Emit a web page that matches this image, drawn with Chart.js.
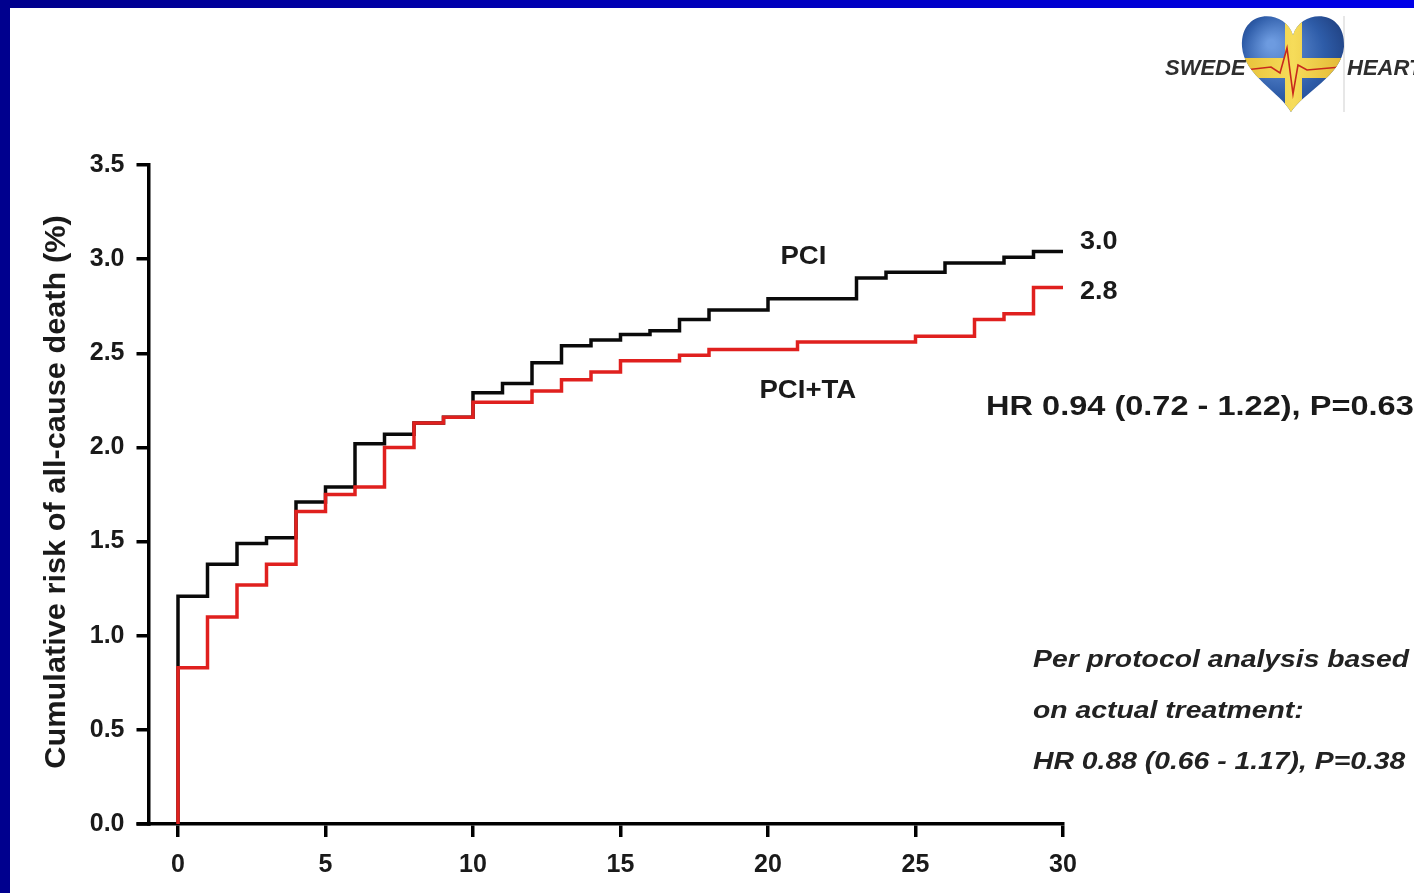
<!DOCTYPE html>
<html>
<head>
<meta charset="utf-8">
<script src="https://cdn.jsdelivr.net/npm/chart.js@4.4.1/dist/chart.umd.min.js"></script>
<style>
  html, body { margin: 0; padding: 0; background: #fff; overflow: hidden; }
  #topband { position: absolute; left: 0; top: 0; width: 1414px; height: 8px;
    background: linear-gradient(to right, #00008c, #0000e8); }
  #leftband { position: absolute; left: 0; top: 0; width: 10px; height: 893px; background: #00008e; }
  #wrap { position: absolute; left: 0; top: 0; width: 1414px; height: 893px; }
</style>
</head>
<body>
<div id="wrap"><canvas id="km" width="1414" height="893"></canvas></div>
<div id="topband"></div>
<div id="leftband"></div>
<script>
// days since PCI and cumulative risk (%)
const pciDays = [0, 0, 1, 2, 3, 4, 5, 6, 7, 8, 9, 10, 11, 12, 13, 14, 15, 16, 17, 18, 20, 23, 24, 26, 28, 29, 30];
const pciRisk = [0, 1.21, 1.38, 1.49, 1.52, 1.71, 1.79, 2.02, 2.07, 2.13, 2.16, 2.29, 2.34, 2.45, 2.54, 2.57, 2.60, 2.62, 2.68, 2.73, 2.79, 2.90, 2.93, 2.98, 3.01, 3.04, 3.04];
const taDays = [0, 0, 1, 2, 3, 4, 5, 6, 7, 8, 9, 10, 12, 13, 14, 15, 17, 18, 21, 25, 27, 28, 29, 30];
const taRisk = [0, 0.83, 1.10, 1.27, 1.38, 1.66, 1.75, 1.79, 2.00, 2.13, 2.16, 2.24, 2.30, 2.36, 2.40, 2.46, 2.49, 2.52, 2.56, 2.59, 2.68, 2.71, 2.85, 2.85];

const xTicks = [0, 5, 10, 15, 20, 25, 30];
const endLabels = ['3.0', '2.8'];
const seriesNames = ['PCI', 'PCI+TA'];
const hrText = 'HR 0.94 (0.72 - 1.22), P=0.63';
const ppText = ['Per protocol analysis based', 'on actual treatment:', 'HR 0.88 (0.66 - 1.17), P=0.38'];
const yTitle = 'Cumulative risk of all-cause death (%)';

const FONT = '"Liberation Sans", Arial, sans-serif';

function pts(xs, ys) {
  return xs.map((x, i) => ({ x: x, y: ys[i] }));
}

function wideText(ctx, txt, x, y, font, sx, align, color) {
  ctx.save();
  ctx.font = font;
  ctx.fillStyle = color || '#1a1a1a';
  ctx.textAlign = align || 'left';
  ctx.textBaseline = 'middle';
  ctx.translate(x, y);
  ctx.scale(sx, 1);
  ctx.fillText(txt, 0, 0);
  ctx.restore();
}

function drawLogo(ctx) {
  const cx = 1293, top = 16, w = 102, h = 96;
  ctx.save();
  // thin separator
  ctx.strokeStyle = '#cfcfcf';
  ctx.lineWidth = 1;
  ctx.beginPath(); ctx.moveTo(1344, 16); ctx.lineTo(1344, 112); ctx.stroke();
  // heart shape
  ctx.beginPath();
  ctx.moveTo(cx, top + 0.2 * h);
  ctx.bezierCurveTo(cx - 0.08 * w, top - 0.08 * h, cx - 0.52 * w, top - 0.08 * h, cx - 0.5 * w, top + 0.32 * h);
  ctx.bezierCurveTo(cx - 0.48 * w, top + 0.62 * h, cx - 0.12 * w, top + 0.8 * h, cx - 0.02 * w, top + h);
  ctx.bezierCurveTo(cx + 0.1 * w, top + 0.8 * h, cx + 0.48 * w, top + 0.62 * h, cx + 0.5 * w, top + 0.32 * h);
  ctx.bezierCurveTo(cx + 0.52 * w, top - 0.08 * h, cx + 0.08 * w, top - 0.08 * h, cx, top + 0.2 * h);
  ctx.closePath();
  const g = ctx.createRadialGradient(cx - 22, top + 28, 4, cx, top + 45, 72);
  g.addColorStop(0, '#6d9be0');
  g.addColorStop(0.55, '#2e5ca8');
  g.addColorStop(1, '#1a3570');
  ctx.fillStyle = g;
  ctx.fill();
  ctx.clip();
  // yellow cross
  const y2 = ctx.createLinearGradient(cx - 50, 0, cx + 50, 0);
  y2.addColorStop(0, '#e8c23a');
  y2.addColorStop(0.5, '#f6dc5a');
  y2.addColorStop(1, '#e3b935');
  ctx.fillStyle = y2;
  ctx.fillRect(cx - 8, top - 5, 17, h + 10);
  ctx.fillRect(cx - 60, top + 42, 120, 20);
  // ecg trace
  ctx.strokeStyle = '#c8281c';
  ctx.lineWidth = 1.6;
  ctx.beginPath();
  ctx.moveTo(cx - 48, top + 54);
  ctx.lineTo(cx - 22, top + 51);
  ctx.lineTo(cx - 13, top + 57);
  ctx.lineTo(cx - 6, top + 32);
  ctx.lineTo(cx + 0, top + 78);
  ctx.lineTo(cx + 5, top + 49);
  ctx.lineTo(cx + 14, top + 54);
  ctx.lineTo(cx + 48, top + 51);
  ctx.stroke();
  ctx.restore();
  wideText(ctx, 'SWEDE', 1165, 69, 'italic bold 22px ' + FONT, 1, 'left', '#2e2e2e');
  wideText(ctx, 'HEART', 1347, 69, 'italic bold 22px ' + FONT, 1, 'left', '#2e2e2e');
}

const extras = {
  id: 'extras',
  afterDraw(chart) {
    const ctx = chart.ctx;
    const xs = chart.scales.x, ys = chart.scales.y;
    const area = chart.chartArea;
    // x axis line continues a little left of the y axis
    ctx.save();
    ctx.strokeStyle = '#000';
    ctx.lineWidth = 3.5;
    ctx.beginPath();
    ctx.moveTo(area.left - 12, area.bottom);
    ctx.lineTo(area.left + 2, area.bottom);
    ctx.stroke();
    ctx.restore();

    // y axis title
    ctx.save();
    ctx.translate(57, 492);
    ctx.rotate(-Math.PI / 2);
    wideText(ctx, yTitle, 0, 0, 'bold 29px ' + FONT, 1.06, 'center', '#1a1a1a');
    ctx.restore();

    // end values
    const lastX = xs.getPixelForValue(pciDays[pciDays.length - 1]);
    wideText(ctx, endLabels[0], lastX + 17, ys.getPixelForValue(pciRisk[pciRisk.length - 1]) - 10, 'bold 26px ' + FONT, 1.04, 'left');
    wideText(ctx, endLabels[1], lastX + 17, ys.getPixelForValue(taRisk[taRisk.length - 1]) + 4, 'bold 26px ' + FONT, 1.04, 'left');

    // series names
    wideText(ctx, seriesNames[0], xs.getPixelForValue(21.2), ys.getPixelForValue(3.01), 'bold 26px ' + FONT, 1.06, 'center');
    wideText(ctx, seriesNames[1], xs.getPixelForValue(21.35), ys.getPixelForValue(2.30), 'bold 26px ' + FONT, 1.06, 'center');

    // hazard ratio
    wideText(ctx, hrText, 986, 408, 'bold 27px ' + FONT, 1.205, 'left');
    ppText.forEach((t, i) => {
      wideText(ctx, t, 1033, 660 + i * 51, 'italic bold 24px ' + FONT, 1.18, 'left', '#222');
    });

    drawLogo(ctx);
  }
};

new Chart(document.getElementById('km'), {
  type: 'line',
  data: {
    datasets: [
      {
        label: 'PCI+TA',
        data: pts(taDays, taRisk),
        borderColor: '#e0201e',
        borderWidth: 3.5,
        stepped: 'before',
        pointRadius: 0,
        fill: false,
        order: 0
      },
      {
        label: 'PCI',
        data: pts(pciDays, pciRisk),
        borderColor: '#0a0a0a',
        borderWidth: 3.5,
        stepped: 'before',
        pointRadius: 0,
        fill: false,
        order: 1
      }
    ]
  },
  options: {
    responsive: false,
    animation: false,
    devicePixelRatio: 1,
    layout: { padding: { left: 0, top: 165, right: 351, bottom: 0 } },
    plugins: { legend: { display: false }, tooltip: { enabled: false } },
    scales: {
      x: {
        type: 'linear',
        min: -1,
        max: 30,
        afterBuildTicks: axis => { axis.ticks = xTicks.map(v => ({ value: v })); },
        afterFit: axis => { axis.height = 69; },
        border: { color: '#000', width: 3.5 },
        grid: { drawOnChartArea: false, drawTicks: true, tickLength: 13, color: '#000', lineWidth: 3.5 },
        ticks: {
          color: '#1a1a1a',
          font: { family: FONT, size: 25, weight: 'bold' },
          padding: 13,
          maxRotation: 0,
          callback: v => String(v)
        }
      },
      y: {
        min: 0,
        max: 3.5,
        afterFit: axis => { axis.width = 148.5; },
        border: { color: '#000', width: 3.5 },
        grid: { drawOnChartArea: false, drawTicks: true, tickLength: 12, color: '#000', lineWidth: 3.5 },
        ticks: {
          stepSize: 0.5,
          color: '#1a1a1a',
          font: { family: FONT, size: 25, weight: 'bold' },
          padding: 12,
          callback: v => v.toFixed(1)
        }
      }
    }
  },
  plugins: [extras]
});
</script>
</body>
</html>
